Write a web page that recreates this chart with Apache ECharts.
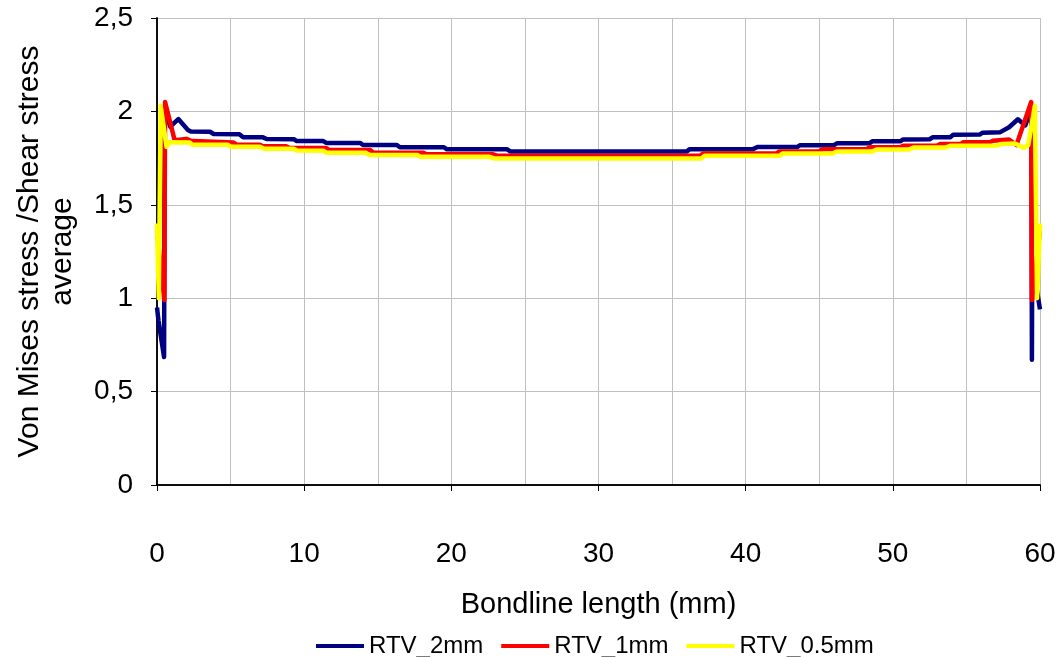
<!DOCTYPE html>
<html>
<head>
<meta charset="utf-8">
<title>Von Mises stress / Shear stress average along the bondline</title>
<script src="https://cdn.jsdelivr.net/npm/echarts@6/dist/echarts.min.js"></script>
<style>
  html, body { margin: 0; padding: 0; background: #ffffff; }
  #chart { width: 1061px; height: 657px; }
</style>
</head>
<body>
<div id="chart"></div>
<script>
// Series names
const seriesNames = ['RTV_2mm', 'RTV_1mm', 'RTV_0.5mm'];

// Bondline position (mm) and stress ratio pairs, per adhesive thickness
const rtv2mm = [
  [0, 0.95], [0.1, 0.88], [0.48, 0.685], [0.53, 2.02], [0.9, 1.918], [1.45, 1.959],
  [2.1, 1.9], [2.3, 1.892], [3.6, 1.891], [3.85, 1.879], [5.6, 1.878], [5.85, 1.862],
  [7.2, 1.861], [7.45, 1.852], [9.3, 1.851], [9.5, 1.841], [11.3, 1.841], [11.5, 1.831],
  [13.8, 1.831], [14.0, 1.82], [16.3, 1.82], [16.5, 1.808], [19.5, 1.808], [19.7, 1.797],
  [23.8, 1.797], [24.0, 1.786], [36.0, 1.786], [36.2, 1.798], [40.5, 1.798], [40.8, 1.809],
  [43.5, 1.809], [43.7, 1.819], [46.0, 1.819], [46.2, 1.829], [48.4, 1.829], [48.6, 1.84],
  [50.5, 1.84], [50.7, 1.85], [52.5, 1.851], [52.7, 1.861], [53.9, 1.862], [54.1, 1.875],
  [55.9, 1.876], [56.1, 1.886], [57.3, 1.889], [57.9, 1.915], [58.5, 1.958], [59.0, 1.925],
  [59.42, 2.02], [59.45, 0.67], [59.47, 1.2], [60, 0.94]
];

const rtv1mm = [
  [0, 1.36], [0.5, 0.99], [0.55, 2.05], [1.2, 1.845], [2.0, 1.853], [2.3, 1.842],
  [2.47, 1.842], [2.6, 1.833], [5.2, 1.833], [5.4, 1.822], [7.0, 1.822], [7.2, 1.813],
  [8.8, 1.813], [9.0, 1.804], [11.5, 1.804], [11.7, 1.793], [14.5, 1.793], [14.7, 1.779],
  [18.1, 1.779], [18.3, 1.771], [22.8, 1.771], [23.1, 1.763], [36.9, 1.763], [37.1, 1.775],
  [42.1, 1.775], [42.3, 1.786], [45.0, 1.786], [45.2, 1.797], [48.2, 1.797], [48.4, 1.808],
  [50.5, 1.808], [50.7, 1.816], [53.0, 1.816], [53.2, 1.825], [54.6, 1.825], [54.8, 1.835],
  [56.6, 1.835], [56.8, 1.843], [57.9, 1.85], [58.4, 1.82], [59.4, 2.05], [59.45, 0.99],
  [60, 1.36]
];

const rtv05mm = [
  [0, 1.4], [0.12, 1.0], [0.25, 2.03], [0.65, 1.81], [0.85, 1.835], [2.24, 1.833],
  [2.4, 1.822], [4.8, 1.822], [5.0, 1.811], [7.0, 1.811], [7.3, 1.80], [9.3, 1.80],
  [9.5, 1.791], [11.3, 1.79], [11.5, 1.779], [14.2, 1.779], [14.4, 1.767], [17.7, 1.767],
  [17.9, 1.757], [22.6, 1.757], [22.9, 1.748], [37.0, 1.748], [37.2, 1.762], [42.3, 1.762],
  [42.5, 1.774], [45.9, 1.774], [46.2, 1.785], [48.6, 1.785], [48.9, 1.796], [51.1, 1.796],
  [51.4, 1.807], [53.6, 1.807], [53.9, 1.816], [57.1, 1.818], [57.4, 1.826], [58.3, 1.828],
  [58.9, 1.805], [59.2, 1.82], [59.65, 2.03], [59.8, 1.0], [60, 1.4]
];

const seriesData = [rtv2mm, rtv1mm, rtv05mm];
const seriesColors = ['#000080', '#ff0000', '#ffff00'];

// Axis extents and tick steps
const xRange = [0, 60];
const xStep = 10;
const yRange = [0, 2.5];
const yStep = 0.5;

const xTitle = 'Bondline length (mm)';
const yTitle = 'Von Mises stress /Shear stress\naverage';

const FONT = '"Liberation Sans", Arial, sans-serif';
const gridGray = '#c0c0c0';

const chart = echarts.init(document.getElementById('chart'), null, { renderer: 'canvas' });

const decimalComma = v => String(v).replace('.', ',');

chart.setOption({
  animation: false,
  backgroundColor: '#ffffff',
  textStyle: { fontFamily: FONT, color: '#000' },
  grid: { left: 157, right: 21, top: 18, bottom: 172, containLabel: false },
  legend: {
    data: seriesNames.map(n => ({ name: n, icon: 'rect' })),
    left: 316,
    top: 634,
    padding: 0,
    itemWidth: 48,
    itemHeight: 4,
    itemGap: 18,
    textStyle: { fontFamily: FONT, fontSize: 24, color: '#000', lineHeight: 24 }
  },
  xAxis: [{
    type: 'value',
    min: xRange[0], max: xRange[1], interval: xStep,
    name: xTitle,
    nameLocation: 'middle',
    nameGap: 105,
    nameTextStyle: { fontFamily: FONT, fontSize: 29, color: '#000' },
    axisLine: { show: true, onZero: false, lineStyle: { color: '#000', width: 1.5 } },
    axisTick: { show: true, inside: false, length: 6, lineStyle: { color: '#000' } },
    axisLabel: { fontFamily: FONT, fontSize: 28, color: '#000', margin: 55 },
    splitLine: { show: true, lineStyle: { color: gridGray, width: 1 } },
    minorTick: { show: false, splitNumber: 2 },
    minorSplitLine: { show: true, lineStyle: { color: gridGray, width: 1 } }
  }, {
    type: 'value', position: 'top',
    min: xRange[0], max: xRange[1], interval: xStep,
    axisLine: { show: true, lineStyle: { color: '#000', width: 1.5 } },
    axisTick: { show: false }, axisLabel: { show: false }, splitLine: { show: false }
  }],
  yAxis: [{
    type: 'value',
    min: yRange[0], max: yRange[1], interval: yStep,
    name: yTitle,
    nameLocation: 'middle',
    nameRotate: 90,
    nameGap: 78,
    nameTextStyle: { fontFamily: FONT, fontSize: 30, color: '#000', lineHeight: 33, align: 'center' },
    axisLine: { show: true, onZero: false, lineStyle: { color: '#000', width: 1.5 } },
    axisTick: { show: true, inside: false, length: 6, lineStyle: { color: '#000' } },
    axisLabel: { fontFamily: FONT, fontSize: 28, color: '#000', margin: 24, formatter: decimalComma },
    splitLine: { show: true, lineStyle: { color: gridGray, width: 1 } }
  }, {
    type: 'value', position: 'right',
    min: yRange[0], max: yRange[1], interval: yStep,
    axisLine: { show: true, lineStyle: { color: '#000', width: 1.5 } },
    axisTick: { show: false }, axisLabel: { show: false }, splitLine: { show: false }
  }],
  series: seriesNames.map((name, i) => ({
    name: name,
    type: 'line',
    data: seriesData[i],
    xAxisIndex: 0,
    yAxisIndex: 0,
    showSymbol: false,
    symbol: 'none',
    smooth: false,
    color: seriesColors[i],
    lineStyle: { color: seriesColors[i], width: 4.5, join: 'round' },
    z: 2 + i
  }))
});
</script>
</body>
</html>
